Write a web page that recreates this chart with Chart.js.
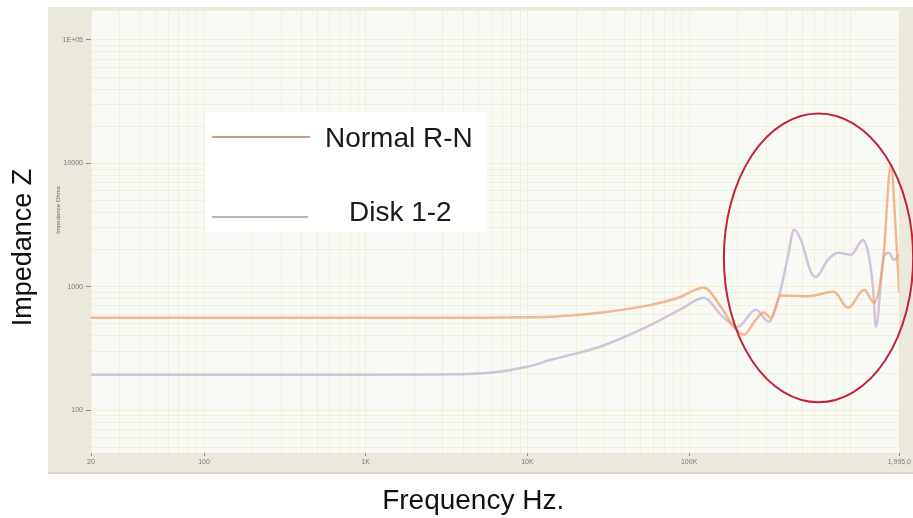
<!DOCTYPE html>
<html>
<head>
<meta charset="utf-8">
<script src="https://cdn.jsdelivr.net/npm/chart.js@4.4.1/dist/chart.umd.min.js"></script>
<style>
    html, body { margin: 0; padding: 0; background: #ffffff; }
    #wrap { width: 913px; height: 518px; position: relative; }
</style>
</head>
<body>
<div id="wrap"><canvas id="impChart" width="913" height="518"></canvas></div>
<script>
// Series (Hz, Ohms)
const normalFreq = [20, 100, 1000, 5000, 10000, 14000, 28000, 58000, 89000, 110000, 123000, 157000, 189000, 218000, 258000, 290000, 320000, 369000, 542000, 786000, 960000, 1210000, 1390000, 1580000, 1770000, 1900000, 1995000];
const normalZ = [561, 561, 561, 562, 566, 571, 616, 714, 830, 950, 985, 688, 474, 408, 540, 620, 560, 850, 840, 910, 676, 946, 742, 1560, 9700, 2700, 890];

const diskFreq = [20, 1000, 3000, 5900, 10000, 14000, 28000, 58000, 92000, 123000, 160000, 200000, 258000, 311000, 359000, 408000, 445000, 491000, 566000, 608000, 721000, 832000, 1000000, 1190000, 1280000, 1370000, 1430000, 1600000, 1720000, 1850000, 1995000];
const diskZ = [194, 194, 195, 201, 225, 256, 327, 492, 676, 815, 580, 474, 651, 521, 830, 1750, 2900, 2400, 1320, 1205, 1654, 1885, 1816, 2400, 1885, 1000, 474, 1750, 1885, 1654, 1816];

const seriesLabels = ['Normal R-N', 'Disk 1-2'];

// Axis ranges and tick labels
const xRange = [20, 1995000];
const yRange = [45, 175000];
const xTickValues = [20, 100, 1000, 10000, 100000, 1995000];
const xTickLabels = ['20', '100', '1K', '10K', '100K', '1,995,0'];
const yTickValues = [100, 1000, 10000, 100000];
const yTickLabels = ['100', '1000', '10000', '1E+05'];

// Circled area (Hz / Ohms bounds)
const ellipseFreq = [164000, 2430000];
const ellipseZ = [116, 25400];

const lineColors = ['rgba(242, 158, 115, 0.75)', 'rgba(202, 186, 214, 0.85)'];
const legendColors = ['#b9785a', '#a898ac'];
const gridColor = 'rgba(228, 230, 175, 0.45)';

// grid at 1..9 per decade, plus both ends
function logGridTicks(min, max) {
    const out = [{ value: min }];
    for (let e = Math.floor(Math.log10(min)); e <= Math.ceil(Math.log10(max)); e++) {
        for (let d = 1; d < 10; d++) {
            const v = d * Math.pow(10, e);
            if (v > min && v < max) out.push({ value: v });
        }
    }
    out.push({ value: max });
    return out;
}

function labelFor(value, values, labels) {
    const i = values.findIndex(v => Math.abs(v - value) / v < 1e-6);
    return i >= 0 ? labels[i] : '';
}

function toPoints(xs, ys) {
    return xs.map((x, i) => ({ x: x, y: ys[i] }));
}

// beige frame + plot background
const framePlugin = {
    id: 'frame',
    beforeDraw(chart) {
        const c = chart.ctx, a = chart.chartArea;
        c.save();
        c.fillStyle = '#ebe9dc';
        c.fillRect(a.left - 43, a.top - 3, chart.width - (a.left - 43), a.bottom + 20 - (a.top - 3));
        c.fillStyle = '#d8d6ca';
        c.fillRect(a.left - 43, a.bottom + 19, chart.width - (a.left - 43), 2);
        c.fillStyle = '#f9f9f6';
        c.fillRect(a.left, a.top, a.right - a.left, a.bottom - a.top);
        c.restore();
    }
};

// titles, legend box and the red ellipse
const overlayPlugin = {
    id: 'overlay',
    afterDatasetsDraw(chart) {
        const c = chart.ctx, a = chart.chartArea;
        const xs = chart.scales.x, ys = chart.scales.y;

        // red ellipse
        const l = xs.getPixelForValue(ellipseFreq[0]), r = xs.getPixelForValue(ellipseFreq[1]);
        const t = ys.getPixelForValue(ellipseZ[1]), b = ys.getPixelForValue(ellipseZ[0]);
        c.save();
        c.strokeStyle = '#c0243c';
        c.lineWidth = 2;
        c.beginPath();
        c.ellipse((l + r) / 2, (t + b) / 2, (r - l) / 2, (b - t) / 2, 0, 0, Math.PI * 2);
        c.stroke();
        c.restore();

        // legend box
        const bx = a.left + 114, by = a.top + 102;
        c.save();
        c.fillStyle = '#ffffff';
        c.fillRect(bx, by, 282, 120);
        c.lineWidth = 1.5;
        c.font = '28px "Liberation Sans", Arial, sans-serif';
        c.fillStyle = '#1a1a1a';
        c.textBaseline = 'alphabetic';
        const rows = [{ y: 25, tx: 120, ty: 35, len: 98 }, { y: 105, tx: 144, ty: 109, len: 96 }];
        chart.data.datasets.forEach((ds, i) => {
            const row = rows[i];
            c.strokeStyle = legendColors[i];
            c.beginPath();
            c.moveTo(bx + 7, by + row.y);
            c.lineTo(bx + 7 + row.len, by + row.y);
            c.stroke();
            c.fillText(ds.label, bx + row.tx, by + row.ty);
        });
        c.restore();
    },
    afterDraw(chart) {
        const c = chart.ctx, a = chart.chartArea;
        c.save();
        c.fillStyle = '#111111';
        c.font = '27px "Liberation Sans", Arial, sans-serif';
        c.textAlign = 'center';
        c.textBaseline = 'alphabetic';
        c.translate(31, (a.top + a.bottom) / 2 + 16);
        c.rotate(-Math.PI / 2);
        c.fillText('Impedance Z', 0, 0);
        c.restore();

        c.save();
        c.fillStyle = '#666666';
        c.font = '6px "Liberation Sans", Arial, sans-serif';
        c.textAlign = 'center';
        c.textBaseline = 'middle';
        c.translate(a.left - 33, a.top + 200);
        c.rotate(-Math.PI / 2);
        c.fillText('Impedance Ohms', 0, 0);
        c.restore();

        c.save();
        c.fillStyle = '#111111';
        c.font = '28px "Liberation Sans", Arial, sans-serif';
        c.textAlign = 'center';
        c.textBaseline = 'alphabetic';
        c.fillText('Frequency Hz.', (a.left + a.right) / 2 - 22, a.bottom + 56);
        c.restore();
    }
};

const ctx = document.getElementById('impChart').getContext('2d');
new Chart(ctx, {
    type: 'line',
    data: {
        datasets: [
            {
                label: seriesLabels[0],
                data: toPoints(normalFreq, normalZ),
                borderColor: lineColors[0],
                borderWidth: 2.5,
                pointRadius: 0,
                fill: false,
                cubicInterpolationMode: 'monotone'
            },
            {
                label: seriesLabels[1],
                data: toPoints(diskFreq, diskZ),
                borderColor: lineColors[1],
                borderWidth: 2.5,
                pointRadius: 0,
                fill: false,
                cubicInterpolationMode: 'monotone'
            }
        ]
    },
    options: {
        responsive: false,
        animation: false,
        devicePixelRatio: 1,
        layout: { autoPadding: false, padding: { top: 10, right: 13, bottom: 45, left: 0 } },
        plugins: {
            legend: { display: false },
            tooltip: { enabled: false }
        },
        scales: {
            x: {
                type: 'logarithmic',
                min: xRange[0],
                max: xRange[1],
                afterBuildTicks: (scale) => { scale.ticks = logGridTicks(xRange[0], xRange[1]); },
                afterFit: (scale) => { scale.height = 20; },
                grid: {
                    color: gridColor,
                    tickLength: 3,
                    tickColor: (c) => (c.tick && labelFor(c.tick.value, xTickValues, xTickLabels) ? '#888888' : 'rgba(0,0,0,0)')
                },
                border: { display: false },
                ticks: {
                    autoSkip: false,
                    maxRotation: 0,
                    minRotation: 0,
                    padding: 2,
                    color: '#777777',
                    font: { size: 7, family: '"Liberation Sans", Arial, sans-serif' },
                    callback: (value) => labelFor(value, xTickValues, xTickLabels)
                }
            },
            y: {
                type: 'logarithmic',
                min: yRange[0],
                max: yRange[1],
                afterBuildTicks: (scale) => { scale.ticks = logGridTicks(yRange[0], yRange[1]); },
                afterFit: (scale) => { scale.width = 91; },
                grid: {
                    color: gridColor,
                    tickLength: 5,
                    tickColor: (c) => (c.tick && labelFor(c.tick.value, yTickValues, yTickLabels) ? '#888888' : 'rgba(0,0,0,0)')
                },
                border: { display: false },
                ticks: {
                    autoSkip: false,
                    padding: 3,
                    color: '#777777',
                    font: { size: 7, family: '"Liberation Sans", Arial, sans-serif' },
                    callback: (value) => labelFor(value, yTickValues, yTickLabels)
                }
            }
        }
    },
    plugins: [framePlugin, overlayPlugin]
});
</script>
</body>
</html>
